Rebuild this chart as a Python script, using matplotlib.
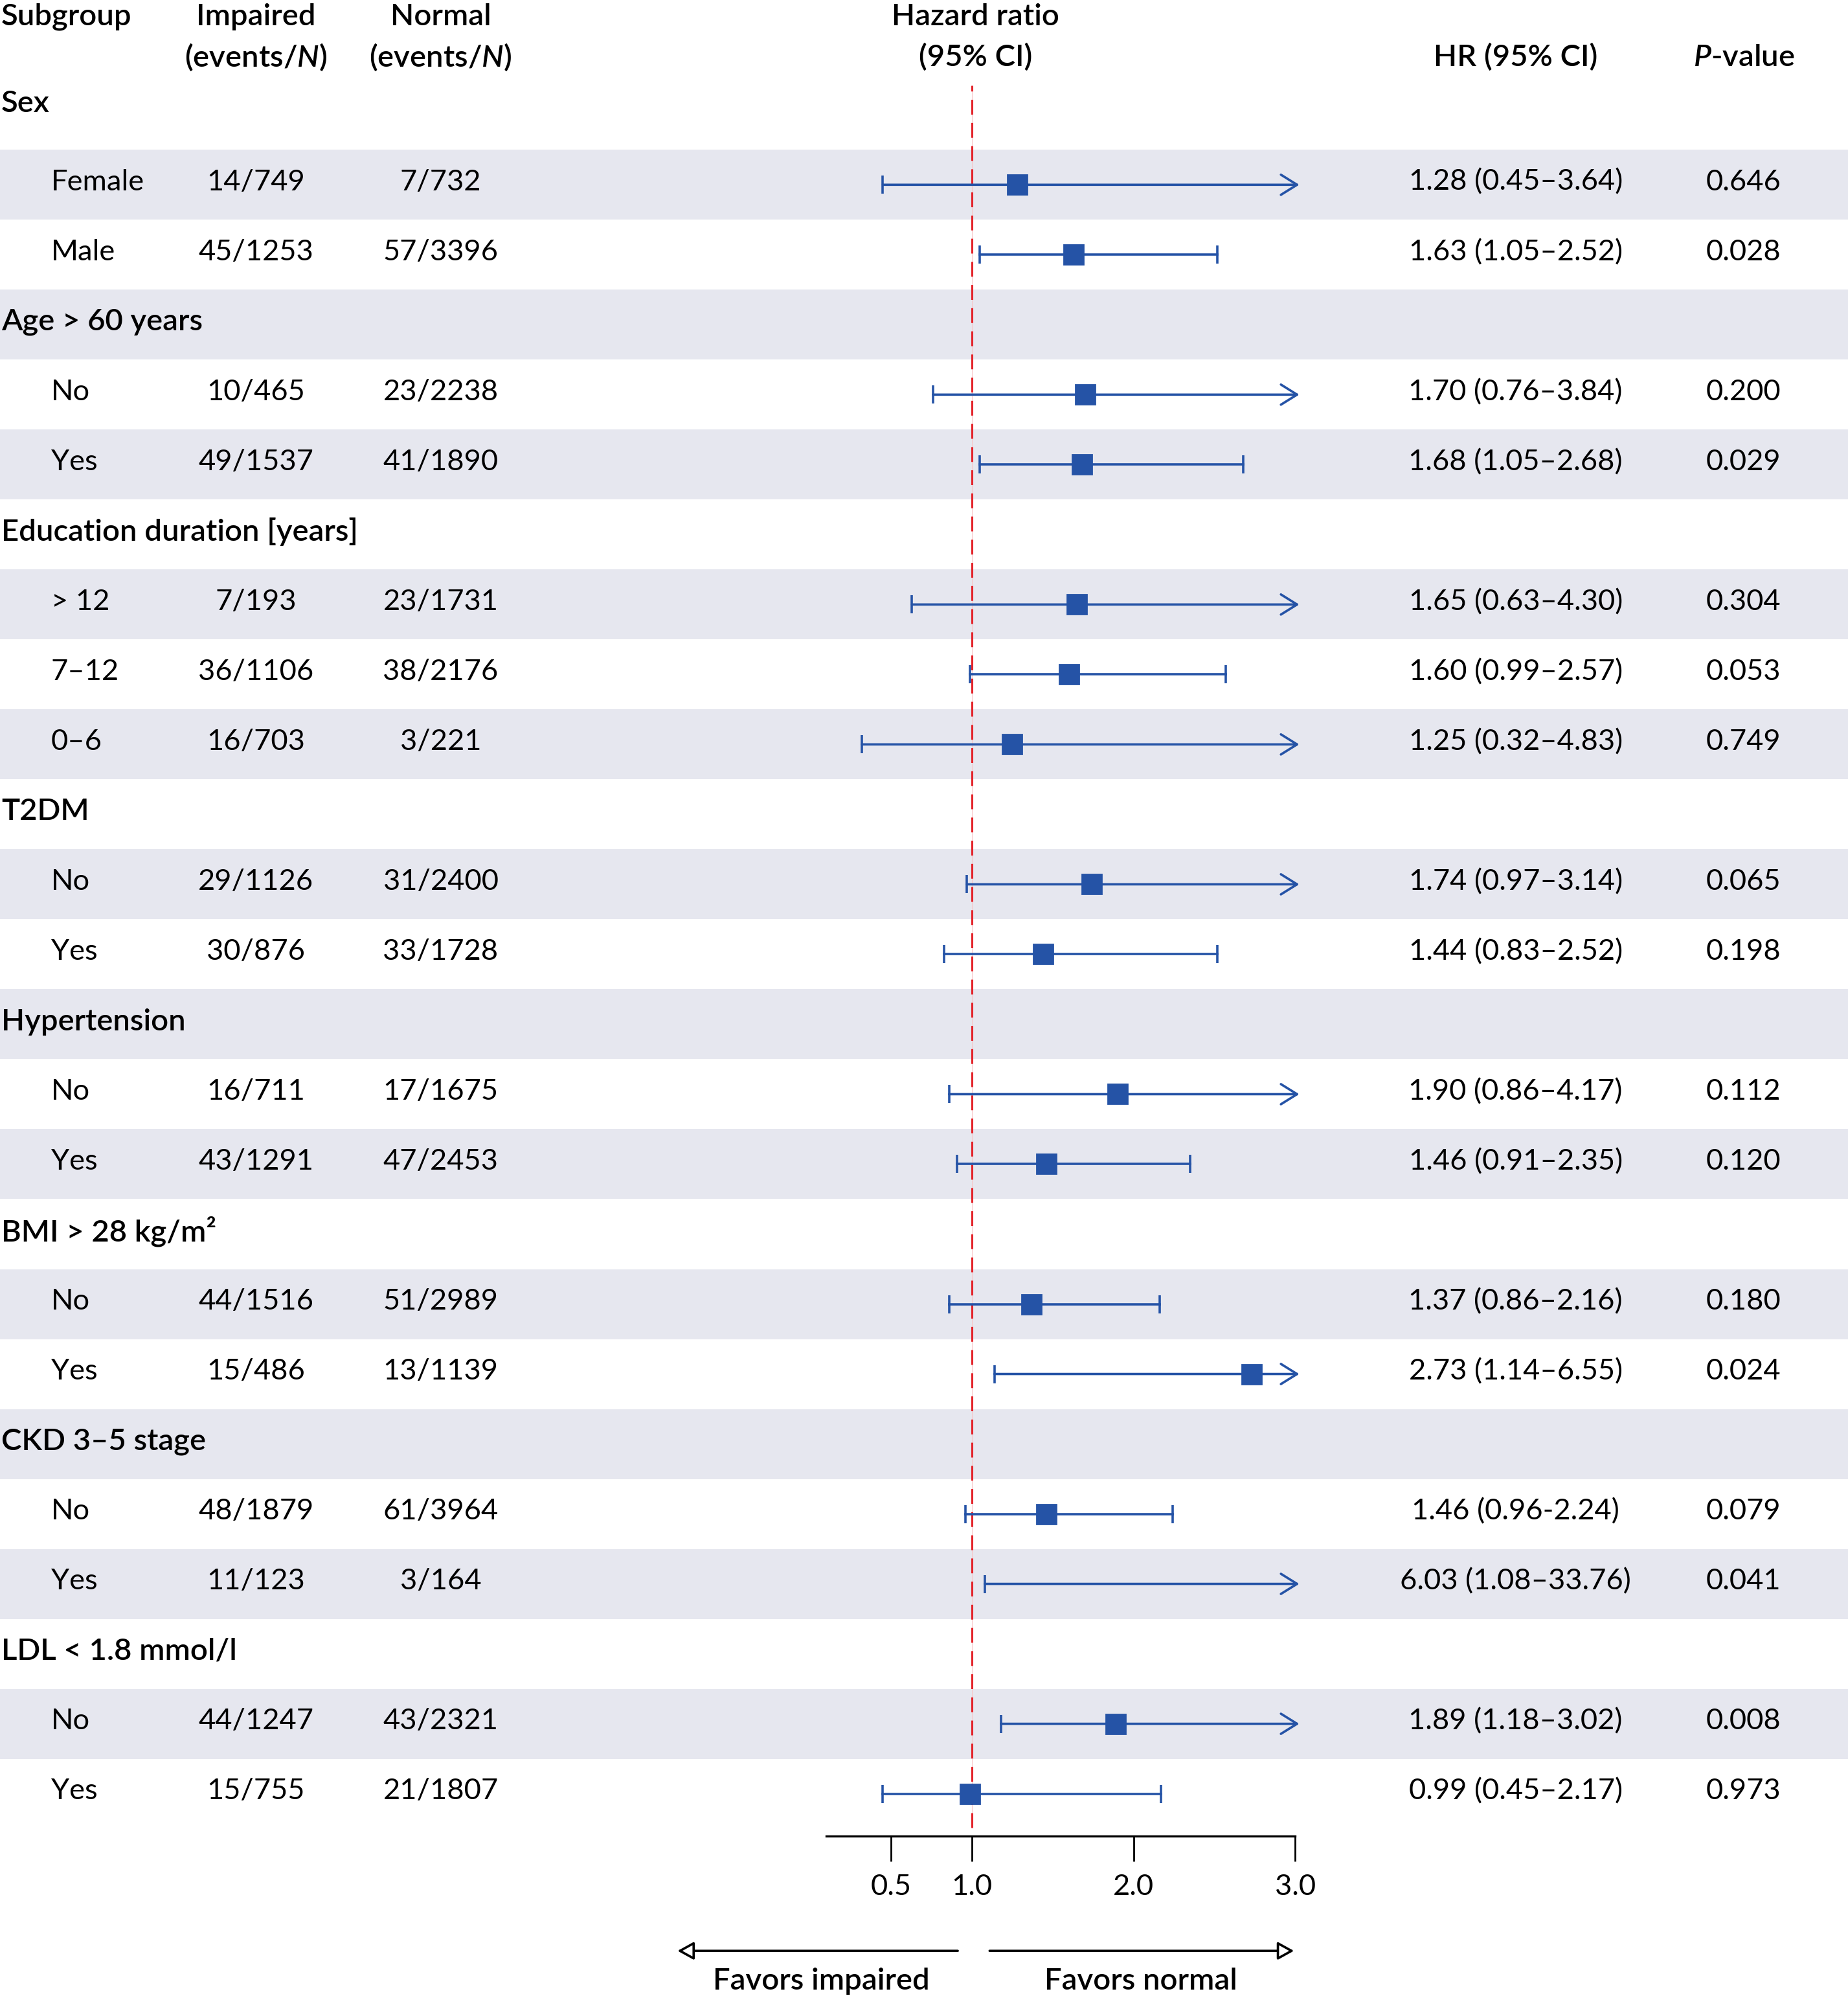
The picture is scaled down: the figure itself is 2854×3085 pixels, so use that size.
import matplotlib
matplotlib.use("Agg")

import matplotlib.pyplot as plt
from matplotlib.patches import FancyArrowPatch

# =========================================================
# DATA
# =========================================================

group_labels = ["Sex", "Age > 60 years", "Education duration [years]", "T2DM",
                "Hypertension", "BMI > 28 kg/m\u00b2", "CKD 3\u20135 stage",
                "LDL < 1.8 mmol/l"]
group_rows = [0, 3, 6, 10, 13, 16, 19, 22]

sub_labels = ["Female", "Male", "No", "Yes", "> 12", "7\u201312", "0\u20136",
              "No", "Yes", "No", "Yes", "No", "Yes", "No", "Yes", "No", "Yes"]
sub_rows = [1, 2, 4, 5, 7, 8, 9, 11, 12, 14, 15, 17, 18, 20, 21, 23, 24]

impaired = ["14/749", "45/1253", "10/465", "49/1537", "7/193", "36/1106",
            "16/703", "29/1126", "30/876", "16/711", "43/1291", "44/1516",
            "15/486", "48/1879", "11/123", "44/1247", "15/755"]
normal = ["7/732", "57/3396", "23/2238", "41/1890", "23/1731", "38/2176",
          "3/221", "31/2400", "33/1728", "17/1675", "47/2453", "51/2989",
          "13/1139", "61/3964", "3/164", "43/2321", "21/1807"]

hr = [1.28, 1.63, 1.70, 1.68, 1.65, 1.60, 1.25, 1.74, 1.44, 1.90, 1.46,
      1.37, 2.73, 1.46, 6.03, 1.89, 0.99]
ci_lo = [0.45, 1.05, 0.76, 1.05, 0.63, 0.99, 0.32, 0.97, 0.83, 0.86, 0.91,
         0.86, 1.14, 0.96, 1.08, 1.18, 0.45]
ci_hi = [3.64, 2.52, 3.84, 2.68, 4.30, 2.57, 4.83, 3.14, 2.52, 4.17, 2.35,
         2.16, 6.55, 2.24, 33.76, 3.02, 2.17]
ci_sep = ["\u2013"] * 13 + ["-"] + ["\u2013"] * 3
pvals = ["0.646", "0.028", "0.200", "0.029", "0.304", "0.053", "0.749",
         "0.065", "0.198", "0.112", "0.120", "0.180", "0.024", "0.079",
         "0.041", "0.008", "0.973"]

xticks = [0.5, 1.0, 2.0, 3.0]
xtick_labels = ["0.5", "1.0", "2.0", "3.0"]

# =========================================================
# STYLE
# =========================================================

plt.rcParams["font.family"] = ["Lato", "DejaVu Sans"]
plt.rcParams["mathtext.fontset"] = "custom"
plt.rcParams["mathtext.rm"] = "Lato"
plt.rcParams["mathtext.it"] = "Lato:italic:semibold"

BLUE = "#2553a6"
RED = "#e3242b"
BAND = "#e6e7ef"
FS = 16.3          # body text
FS_B = 17.0        # headers / group labels

# layout in reference pixels (half-size frame 1451 x 1568)
W, H = 1451.0, 1568.0
ROW0, PITCH = 90.1, 54.9          # centre of row 0 and row pitch


def row_of(ypix):
    return (ypix - ROW0) / PITCH


X_GROUP, X_SUB = 1, 40
X_IMP, X_NORM = 201, 346
X_HR_HDR = 766
X_HRTXT, X_P = 1190, 1369
DY_SUB = -2 / PITCH      # text sits a touch above band centre
DY_GRP = -2 / PITCH
DY_FIRST = -9 / PITCH    # "Sex" sits tighter under the header

# forest axes: HR 0.1 .. 3.0 on pixel 648.7 .. 1017
def hr_px(v):
    return 763 + 127 * (v - 1.0)

F_TOP, F_BOT = 67, 1441

# =========================================================
# FIGURE
# =========================================================

fig = plt.figure(figsize=(14.27, 15.425), dpi=200)
ax = fig.add_axes([0, 0, 1, 1])
ax.set_xlim(0, W)
ax.set_ylim(row_of(H), row_of(0))
ax.axis("off")

# alternating bands
for i in range(1, 25, 2):
    ax.axhspan(i - 0.5, i + 0.5, color=BAND, lw=0, zorder=0)

# headers
y1, y2 = row_of(13), row_of(45)
hdr = dict(fontsize=FS_B, fontweight="semibold", va="center")
ax.text(X_GROUP, y1, "Subgroup", ha="left", **hdr)
ax.text(X_IMP, y1, "Impaired", ha="center", **hdr)
ax.text(X_IMP, y2, r"(events/$\mathit{N}$)", ha="center", **hdr)
ax.text(X_NORM, y1, "Normal", ha="center", **hdr)
ax.text(X_NORM, y2, r"(events/$\mathit{N}$)", ha="center", **hdr)
ax.text(X_HR_HDR, y1, "Hazard ratio", ha="center", **hdr)
ax.text(X_HR_HDR, y2, "(95% CI)", ha="center", **hdr)
ax.text(X_HRTXT, y2, "HR (95% CI)", ha="center", **hdr)
ax.text(X_P, y2, r"$\mathit{P}$-value", ha="center", **hdr)

# group labels
for lab, r in zip(group_labels, group_rows):
    dy = DY_FIRST if r == 0 else DY_GRP
    ax.text(X_GROUP, r + dy, lab, ha="left", va="center", fontsize=FS_B,
            fontweight="semibold")

# subgroup rows
for k, r in enumerate(sub_rows):
    yr = r + DY_SUB
    ax.text(X_SUB, yr, sub_labels[k], ha="left", va="center", fontsize=FS)
    ax.text(X_IMP, yr, impaired[k], ha="center", va="center", fontsize=FS)
    ax.text(X_NORM, yr, normal[k], ha="center", va="center", fontsize=FS)
    txt = f"{hr[k]:.2f} ({ci_lo[k]:.2f}{ci_sep[k]}{ci_hi[k]:.2f})"
    ax.text(X_HRTXT, yr, txt, ha="center", va="center", fontsize=FS)
    ax.text(X_P, yr, pvals[k], ha="center", va="center", fontsize=FS)

# =========================================================
# FOREST PANEL
# =========================================================

fl = hr_px(0.1) / W
fr = hr_px(3.0) / W
fax = fig.add_axes([fl, 1 - F_BOT / H, fr - fl, (F_BOT - F_TOP) / H])
fax.patch.set_visible(False)
fax.set_xlim(0.1, 3.0)
fax.set_ylim(row_of(F_BOT), row_of(F_TOP))

fax.axvline(1.0, ymin=0.005, ymax=1, color="#f6c4c6", lw=0.4, zorder=1)
fax.axvline(1.0, ymin=0.005, ymax=1, color=RED, lw=1.1,
            dashes=(7.5, 4.2), zorder=1)

XMAX = 3.0
for k, r in enumerate(sub_rows):
    lo, h, hi = ci_lo[k], hr[k], ci_hi[k]
    fax.plot([lo], [r], marker="|", ms=10, mew=1.3, color=BLUE, zorder=3)
    if hi > XMAX:
        fax.annotate("", xy=(XMAX + 0.025, r), xytext=(lo, r),
                     arrowprops=dict(arrowstyle="->,head_length=0.45,head_width=0.28",
                                     color=BLUE, lw=1.3, shrinkA=0, shrinkB=0,
                                     mutation_scale=20),
                     annotation_clip=False, zorder=3)
    else:
        fax.plot([lo, hi], [r, r], color=BLUE, lw=1.3, zorder=3)
        fax.plot([hi], [r], marker="|", ms=10, mew=1.3, color=BLUE, zorder=3)
    if h <= XMAX:
        fax.plot([h], [r], marker="s", ms=10.5, color=BLUE, mec=BLUE,
                 zorder=4)

for s in ["top", "right", "left"]:
    fax.spines[s].set_visible(False)
fax.spines["bottom"].set_linewidth(1.2)
fax.set_yticks([])
fax.set_xticks(xticks)
fax.set_xticklabels(xtick_labels, fontsize=FS)
fax.tick_params(axis="x", direction="out", length=14, width=1.0, pad=7)

# =========================================================
# FAVORS ARROWS
# =========================================================

ya = row_of(1531)
yt = row_of(1555)
for x0, x1 in [(752, 532), (777, 1016)]:
    ax.add_patch(FancyArrowPatch(
        (x0, ya), (x1, ya),
        arrowstyle="-|>,head_length=0.38,head_width=0.21",
        mutation_scale=20, fc="white", ec="black", lw=1.3,
        shrinkA=0, shrinkB=0, zorder=3))
ax.text(645, yt, "Favors impaired", ha="center", va="center", fontsize=FS_B,
        fontweight="semibold")
ax.text(896, yt, "Favors normal", ha="center", va="center", fontsize=FS_B,
        fontweight="semibold")

fig.savefig("out.png", dpi=200)
